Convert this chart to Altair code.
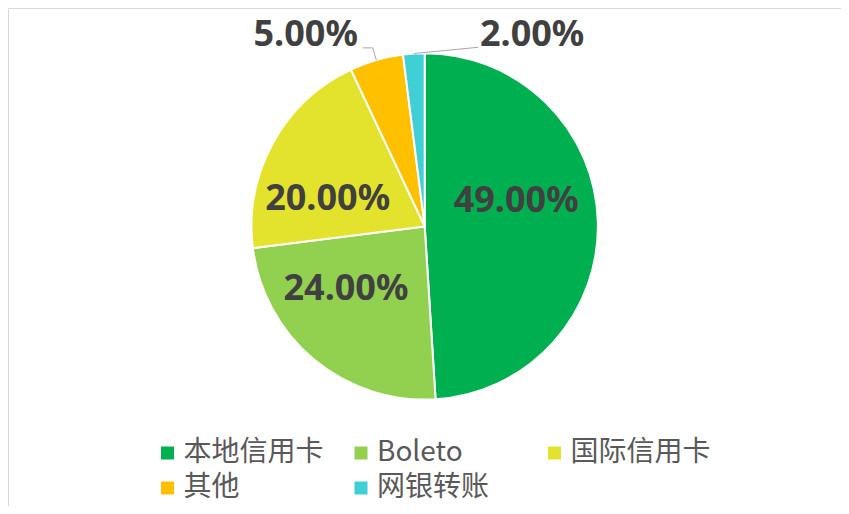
import math
import altair as alt
import pandas as pd

# ---- data ----
categories = ["本地信用卡", "Boleto", "国际信用卡", "其他", "网银转账"]
values = [49, 24, 20, 5, 2]
labels = ["49.00%", "24.00%", "20.00%", "5.00%", "2.00%"]
colors = ["#00B050", "#92D050", "#E3E32D", "#FFC000", "#3FCFD5"]

# ---- layout / style ----
W, H = 833, 498
CX, CY = 416.7, 218.4
R = 173.2
R_IN, R_OUT = 100, 193.5
# label radius and pixel nudges (Excel-style manual label placement)
label_place = {
    0: (R_IN, -8.5, -22),
    1: (R_IN, -15, -14.6),
    2: (R_IN, -9.4, 21),
    3: (R_OUT, -65, -5.7),
    4: (R_OUT, 119.6, 2),
}
# legend grid (3 columns)
LEG_COLS = 3
LEG_X0, LEG_PITCH = 159.5, 193.5
LEG_Y0, LEG_ROW = 445, 35
LEG_GAP = 16

df = pd.DataFrame({"cat": categories, "value": values, "label": labels,
                   "idx": list(range(len(values)))})
total = float(sum(values))
df["end"] = df["value"].cumsum()
df["start"] = df["end"] - df["value"]
df["mid"] = (df["start"] + df["end"]) / 2
df["lx"] = LEG_X0 + (df["idx"] % LEG_COLS) * LEG_PITCH
df["ly"] = LEG_Y0 + (df["idx"] // LEG_COLS) * LEG_ROW

theta_scale = alt.Scale(domain=[0, total], range=[0, 2 * math.pi])
color_scale = alt.Scale(domain=categories, range=colors)

base = alt.Chart(df)

arcs = base.mark_arc(outerRadius=R, stroke="white", strokeWidth=2).encode(
    theta=alt.Theta("start:Q", stack=None, scale=theta_scale),
    theta2="end:Q",
    color=alt.Color("cat:N", scale=color_scale, legend=None),
    x=alt.value(CX),
    y=alt.value(CY),
)


def label_pos(i):
    r, dx, dy = label_place[i]
    a = df.loc[i, "mid"] / total * 2 * math.pi
    return CX + r * math.sin(a) + dx, CY - r * math.cos(a) + dy


layers = [arcs]

# leader lines for the two outside labels
lead_rows = []
for i in (3, 4):
    a = df.loc[i, "mid"] / total * 2 * math.pi
    ex, ey = CX + R * math.sin(a), CY - R * math.cos(a)
    lx, ly = label_pos(i)
    if i == 3:
        pts = [(ex, ey), (lx + 67, ly + 13), (lx + 57, ly + 13)]
    else:
        pts = [(ex, ey), (lx - 54, ly + 12)]
    for k, (px, py) in enumerate(pts):
        lead_rows.append({"grp": i, "k": k, "px": px, "py": py})
lead_df = pd.DataFrame(lead_rows)

leaders = alt.Chart(lead_df).mark_line(color="#A6A6A6", strokeWidth=1).encode(
    x=alt.X("px:Q", scale=None, axis=None),
    y=alt.Y("py:Q", scale=None, axis=None),
    detail="grp:N",
    order="k:Q",
)
layers.append(leaders)

for i in range(len(values)):
    r, dx, dy = label_place[i]
    t = base.transform_filter(alt.datum.idx == i).mark_text(
        radius=r, dx=dx, dy=dy, font="Noto Sans", fontWeight="bold", fontSize=36,
        color="#404040", align="center", baseline="middle",
    ).encode(
        theta=alt.Theta("mid:Q", stack=None, scale=theta_scale),
        text="label:N",
        x=alt.value(CX),
        y=alt.value(CY),
    )
    layers.append(t)

# legend drawn as marks
leg_sym = base.mark_square(size=169, opacity=1, strokeWidth=0).encode(
    x=alt.X("lx:Q", scale=None, axis=None),
    y=alt.Y("ly:Q", scale=None, axis=None),
    color=alt.Color("cat:N", scale=color_scale, legend=None),
)
leg_txt = base.mark_text(
    align="left", baseline="middle", dx=LEG_GAP, font="Noto Sans CJK SC",
    fontSize=28, color="#595959",
).encode(
    x=alt.X("lx:Q", scale=None, axis=None),
    y=alt.Y("ly:Q", scale=None, axis=None),
    text="cat:N",
)
layers += [leg_sym, leg_txt]

chart = alt.layer(*layers).properties(
    width=W, height=H, padding=0,
    autosize=alt.AutoSizeParams(type="none"),
    background="white",
).configure_view(stroke="#D9D9D9", strokeWidth=1)

chart.save("out.html", embed_options={"renderer": "svg", "actions": False})
